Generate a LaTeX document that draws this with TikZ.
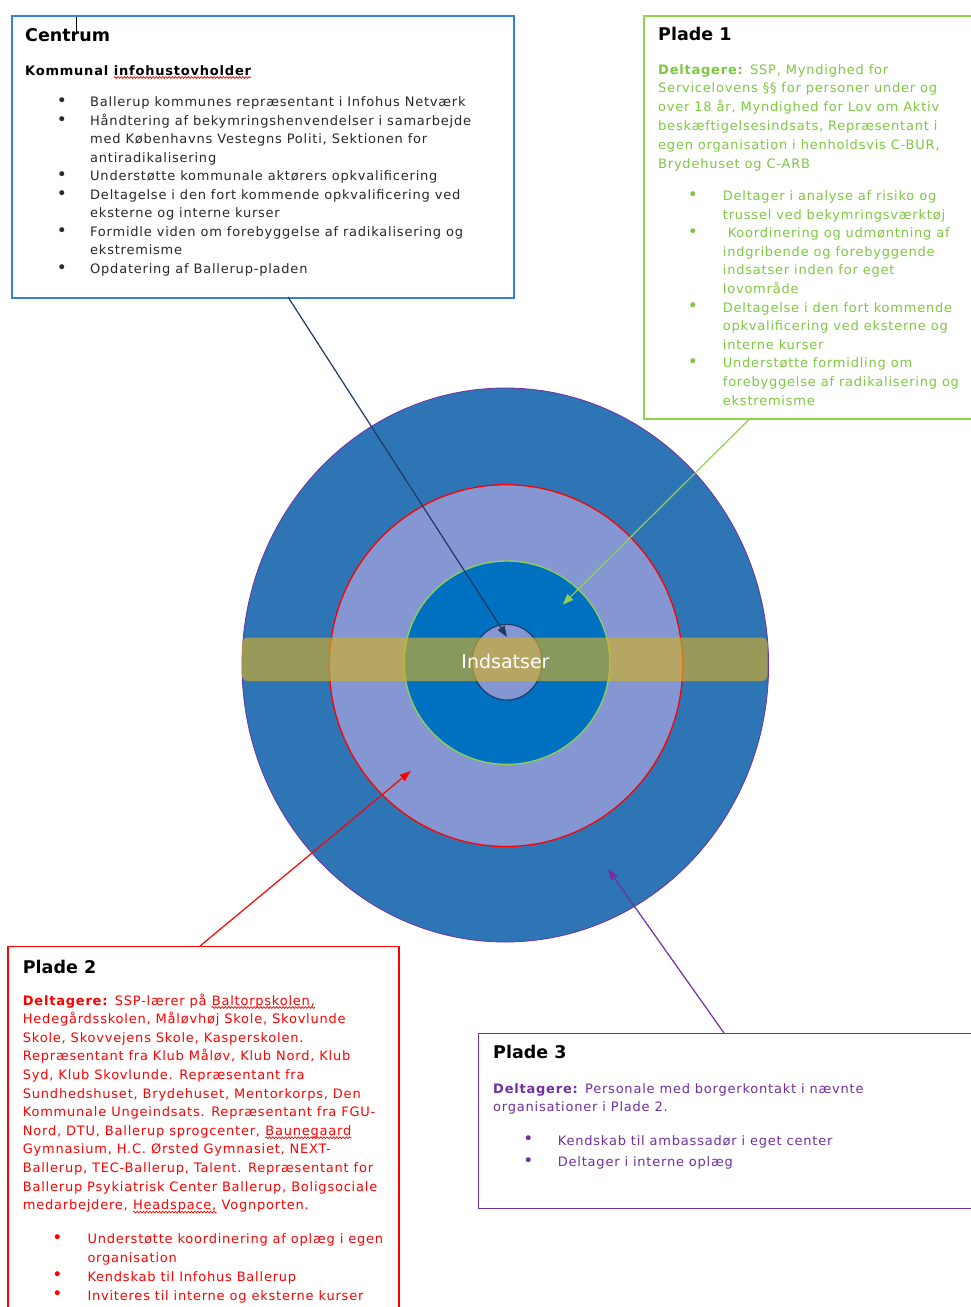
\documentclass[tikz,border=0pt]{standalone}
\usepackage{fontspec}
\setmainfont{DejaVu Sans}
\newfontfamily\bodyfont{DejaVu Sans}[LetterSpace=6]
\usetikzlibrary{arrows.meta,shapes.geometric,decorations.pathmorphing}
\definecolor{cblue}{RGB}{50,130,215}
\definecolor{pgreen}{RGB}{146,208,80}
\definecolor{tgreen}{RGB}{125,200,65}
\definecolor{pred}{RGB}{255,0,0}
\definecolor{ppurple}{RGB}{112,48,160}
\definecolor{navy}{RGB}{31,56,100}
\definecolor{ctext}{RGB}{40,40,40}
\definecolor{outerblue}{RGB}{46,117,182}
\definecolor{ringlight}{RGB}{132,151,211}
\definecolor{midblue}{RGB}{0,112,192}
\definecolor{bandgold}{RGB}{210,175,40}
\tikzset{
  txt/.style={anchor=base west, inner sep=0pt, font=\bodyfont\fontsize{13}{16}\selectfont},
  ttl/.style={anchor=base west, inner sep=0pt, font=\bfseries\fontsize{17.5}{20}\selectfont, text=black},
  bul/.style={anchor=center, inner sep=0pt, font=\fontsize{17}{20}\selectfont},
  box/.style={draw, anchor=north west, inner sep=0pt, fill=white},
  arr/.style={line width=1.2pt, -{Triangle[length=11pt,width=8pt]}},
  squig/.style={draw=red, line width=0.7pt, decorate, decoration={snake, segment length=3.2pt, amplitude=0.9pt}},
}
\newcommand{\tl}[4][]{\node[txt,#1] (#2) at (#3) {#4};}
\newcommand{\bl}[3][]{\node[bul,#1] (#2) at (#3) {\textbullet};}
\begin{document}
\begin{tikzpicture}[x=1pt,y=-1pt]
\useasboundingbox (0,0) rectangle (970,1307);

% ---------- target circles ----------
\node[ellipse, inner sep=0pt, minimum width=526.6pt, minimum height=554pt, fill=outerblue, draw=ppurple, line width=0.8pt] (ring3) at (505.3,665) {};
\node[ellipse, inner sep=0pt, minimum width=353.4pt, minimum height=361.8pt, fill=ringlight, draw=pred, line width=1.3pt] (ring2) at (506,665.6) {};
\node[ellipse, inner sep=0pt, minimum width=205.6pt, minimum height=203.4pt, fill=midblue, draw=pgreen, line width=1.3pt] (ring1) at (507,662.7) {};
\node[ellipse, inner sep=0pt, minimum width=70pt, minimum height=75.6pt, fill=ringlight, draw=navy, line width=1.1pt] (ring0) at (507,662.2) {};
\node[rectangle, rounded corners=6pt, inner sep=0pt, minimum width=525.5pt, minimum height=43.5pt, fill=bandgold, fill opacity=0.65] (band) at (504.75,659.25) {};
\node[anchor=base, inner sep=0pt, text=white, font=\fontsize{19}{22}\selectfont] (indsatser) at (505.5,668) {Indsatser};

% ---------- boxes ----------
\node[box, draw=cblue, line width=1.5pt, minimum width=502pt, minimum height=282pt] (centrum) at (11,15) {};
\node[box, draw=pgreen, line width=1.8pt, minimum width=345pt, minimum height=403pt] (plade1) at (643,15) {};
\node[box, draw=pred, line width=1.4pt, minimum width=391pt, minimum height=400pt] (plade2) at (7.3,946) {};
\node[box, draw=ppurple, line width=1.4pt, minimum width=510pt, minimum height=175pt] (plade3) at (478,1033) {};

% ---------- arrows ----------
\coordinate (a0s) at (288,297);   \coordinate (a0e) at (507,637);
\coordinate (a1s) at (750,418.5); \coordinate (a1e) at (562.6,604.7);
\coordinate (a2s) at (200,946);   \coordinate (a2e) at (410.7,771);
\coordinate (a3s) at (724,1033);  \coordinate (a3e) at (608,869);
\draw[arr, navy] (a0s) -- (a0e);
\draw[arr, pgreen] (a1s) -- (a1e);
\draw[arr, pred] (a2s) -- (a2e);
\draw[arr, ppurple] (a3s) -- (a3e);

% ---------- Centrum ----------
\node[ttl] (ctitle) at (25,41.7) {Centrum};
\coordinate (cur1) at (76.7,16.7); \coordinate (cur2) at (76.7,31.7);
\draw[line width=0.8pt, black] (cur1) -- (cur2);
\tl[font=\bodyfont\bfseries\fontsize{13}{16}\selectfont]{csub}{25,75}{Kommunal\ \mbox{}}
\tl[font=\bodyfont\bfseries\fontsize{13}{16}\selectfont]{csubb}{csub.base east}{infohustovholder}
\draw[squig] ([yshift=-2.5pt]csubb.base west) -- ([yshift=-2.5pt]csubb.base east);
\begin{scope}[every node/.append style={text=ctext}]
\bl{cb1}{62,102.2}
\tl{c1}{90,106.7}{Ballerup kommunes repræsentant i Infohus Netværk}
\bl{cb2}{62,120.7}
\tl{c2}{90,125.2}{Håndtering af bekymringshenvendelser i samarbejde}
\tl{c3}{90,143.7}{med Københavns Vestegns Politi, Sektionen for}
\tl{c4}{90,162.2}{antiradikalisering}
\bl{cb3}{62,176.2}
\tl{c5}{90,180.7}{Understøtte kommunale aktørers opkvalificering}
\bl{cb4}{62,194.7}
\tl{c6}{90,199.2}{Deltagelse i den fort kommende opkvalificering ved}
\tl{c7}{90,217.7}{eksterne og interne kurser}
\bl{cb5}{62,231.7}
\tl{c8}{90,236.2}{Formidle viden om forebyggelse af radikalisering og}
\tl{c9}{90,254.7}{ekstremisme}
\bl{cb6}{62,268.7}
\tl{c10}{90,273.2}{Opdatering af Ballerup-pladen}
\end{scope}

% ---------- Plade 1 ----------
\node[ttl] (p1title) at (658,40.7) {Plade 1};
\begin{scope}[every node/.append style={text=tgreen}]
\tl{p1a}{658,74}{\textbf{Deltagere:} SSP, Myndighed for}
\tl{p1b}{658,92.8}{Servicelovens §§ for personer under og}
\tl{p1c}{658,111.6}{over 18 år, Myndighed for Lov om Aktiv}
\tl{p1d}{658,130.4}{beskæftigelsesindsats, Repræsentant i}
\tl{p1e}{658,149.2}{egen organisation i henholdsvis C-BUR,}
\tl{p1f}{658,168}{Brydehuset og C-ARB}
\bl{p1b1}{693,196}
\tl{p1g}{722.7,200.5}{Deltager i analyse af risiko og}
\tl{p1h}{722.7,219.1}{trussel ved bekymringsværktøj}
\bl{p1b2}{693,233.2}
\tl{p1i}{722.7,237.7}{\ Koordinering og udmøntning af}
\tl{p1j}{722.7,256.3}{indgribende og forebyggende}
\tl{p1k}{722.7,274.9}{indsatser inden for eget}
\tl{p1l}{722.7,293.5}{lovområde}
\bl{p1b3}{693,307.6}
\tl{p1m}{722.7,312.1}{Deltagelse i den fort kommende}
\tl{p1n}{722.7,330.7}{opkvalificering ved eksterne og}
\tl{p1o}{722.7,349.3}{interne kurser}
\bl{p1b4}{693,363.4}
\tl{p1p}{722.7,367.9}{Understøtte formidling om}
\tl{p1q}{722.7,386.5}{forebyggelse af radikalisering og}
\tl{p1r}{722.7,405.1}{ekstremisme}
\end{scope}

% ---------- Plade 2 ----------
\node[ttl] (p2title) at (22.7,973.3) {Plade 2};
\begin{scope}[every node/.append style={text=pred}]
\tl{p2a}{22.7,1005}{\textbf{Deltagere:} SSP-lærer på\ \mbox{}}
\tl{p2aw}{p2a.base east}{Baltorpskolen,}
\tl{p2b}{22.7,1023.6}{Hedegårdsskolen, Måløvhøj Skole, Skovlunde}
\tl{p2c}{22.7,1042.2}{Skole, Skovvejens Skole, Kasperskolen.}
\tl{p2d}{22.7,1060.8}{Repræsentant fra Klub Måløv, Klub Nord, Klub}
\tl{p2e}{22.7,1079.4}{Syd, Klub Skovlunde. Repræsentant fra}
\tl{p2f}{22.7,1098}{Sundhedshuset, Brydehuset, Mentorkorps, Den}
\tl{p2g}{22.7,1116.6}{Kommunale Ungeindsats. Repræsentant fra FGU-}
\tl{p2h}{22.7,1135.2}{Nord, DTU, Ballerup sprogcenter,\ \mbox{}}
\tl{p2hw}{p2h.base east}{Baunegaard}
\tl{p2i}{22.7,1153.8}{Gymnasium, H.C. Ørsted Gymnasiet, NEXT-}
\tl{p2j}{22.7,1172.4}{Ballerup, TEC-Ballerup, Talent. Repræsentant for}
\tl{p2k}{22.7,1191}{Ballerup Psykiatrisk Center Ballerup, Boligsociale}
\tl{p2l}{22.7,1209.6}{medarbejdere,\ \mbox{}}
\tl{p2lw}{p2l.base east}{Headspace,}
\tl{p2lx}{p2lw.base east}{\ Vognporten.}
\bl{p2b1}{57.3,1238.8}
\tl{p2m}{87.3,1243.3}{Understøtte koordinering af oplæg i egen}
\tl{p2n}{87.3,1262}{organisation}
\bl{p2b2}{57.3,1276.5}
\tl{p2o}{87.3,1281}{Kendskab til Infohus Ballerup}
\bl{p2b3}{57.3,1295.5}
\tl{p2p}{87.3,1300}{Inviteres til interne og eksterne kurser}
\end{scope}
\draw[squig] ([yshift=-2.5pt]p2aw.base west) -- ([yshift=-2.5pt]p2aw.base east);
\draw[squig] ([yshift=-2.5pt]p2hw.base west) -- ([yshift=-2.5pt]p2hw.base east);
\draw[squig] ([yshift=-2.5pt]p2lw.base west) -- ([yshift=-2.5pt]p2lw.base east);

% ---------- Plade 3 ----------
\node[ttl] (p3title) at (493,1058.3) {Plade 3};
\begin{scope}[every node/.append style={text=ppurple}]
\tl{p3a}{493,1093.3}{\textbf{Deltagere:} Personale med borgerkontakt i nævnte}
\tl{p3b}{493,1111.7}{organisationer i Plade 2.}
\bl{p3b1}{528.3,1140.5}
\tl{p3c}{557.7,1145}{Kendskab til ambassadør i eget center}
\bl{p3b2}{528.3,1162.2}
\tl{p3d}{557.7,1166.7}{Deltager i interne oplæg}
\end{scope}
\end{tikzpicture}
\end{document}
